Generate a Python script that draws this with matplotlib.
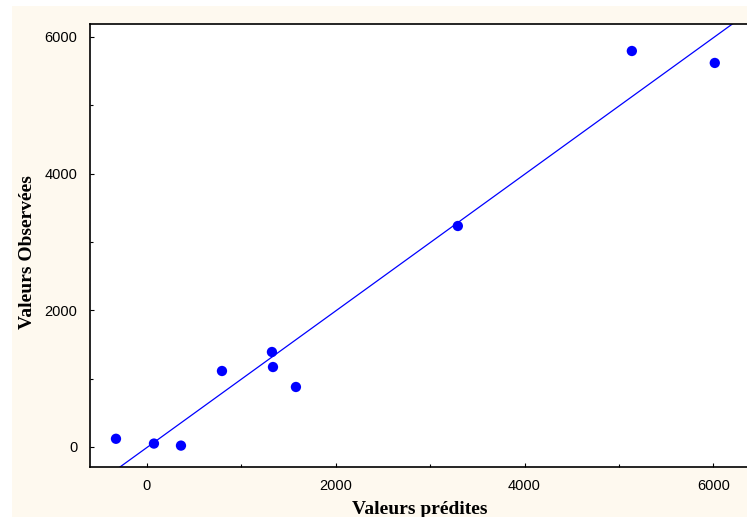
import matplotlib
matplotlib.use("Agg")
import matplotlib.pyplot as plt
from matplotlib.patches import Rectangle
from matplotlib.ticker import MultipleLocator

predicted = [-325, 77, 363, 797, 1326, 1337, 1580, 3294, 5136, 6014]
observed = [120, 50, 20, 1112, 1390, 1170, 878, 3234, 5795, 5620]
fit_slope = 1.0
fit_intercept = -10
x_ticks = [0, 2000, 4000, 6000]
y_ticks = [0, 2000, 4000, 6000]
x_label = "Valeurs prédites"
y_label = "Valeurs Observées"

W, H = 747, 517
fig = plt.figure(figsize=(W / 100, H / 100), dpi=100, facecolor="white")
fig.patches.append(Rectangle((12 / W, 0), 1 - 12 / W, 1 - 6 / H,
                             transform=fig.transFigure, facecolor="#FEF9EF",
                             edgecolor="none", zorder=-10))

ax = fig.add_axes([90 / W, (H - 467) / H, (747 - 90) / W, (467 - 24) / H])
ax.set_zorder(1)
ax.set_facecolor("white")
xlim = (-600, 6355)
ylim = (-293, 6190)
ax.set_xlim(*xlim)
ax.set_ylim(*ylim)

xs = [xlim[0], xlim[1]]
ax.plot(xs, [fit_slope * v + fit_intercept for v in xs], color="#0000FF", lw=0.9, zorder=2)
ax.scatter(predicted, observed, s=55, color="#0000FF", edgecolors="none", zorder=3, clip_on=False)

ax.spines["right"].set_visible(False)
for s in ["left", "top", "bottom"]:
    ax.spines[s].set_linewidth(1.2)
    ax.spines[s].set_color("black")

ax.set_xticks(x_ticks)
ax.set_yticks(y_ticks)
ax.xaxis.set_minor_locator(MultipleLocator(1000))
ax.yaxis.set_minor_locator(MultipleLocator(1000))
ax.tick_params(which="major", direction="in", length=3, width=0.8, labelsize=10.5, pad=9,
               top=False, right=False)
ax.tick_params(which="minor", direction="in", length=2, width=0.8, top=False, right=False)
for lab in ax.get_xticklabels() + ax.get_yticklabels():
    lab.set_family("Liberation Sans")

ax.set_xlabel(x_label, family="Liberation Serif", fontweight="bold", fontsize=14)
ax.set_ylabel(y_label, family="Liberation Serif", fontweight="bold", fontsize=14)
ax.xaxis.set_label_coords(420 / W, (H - 501) / H, transform=fig.transFigure)
ax.yaxis.set_label_coords(36 / W, (H - 252) / H, transform=fig.transFigure)

fig.savefig("out.png", dpi=100, facecolor=fig.get_facecolor())
